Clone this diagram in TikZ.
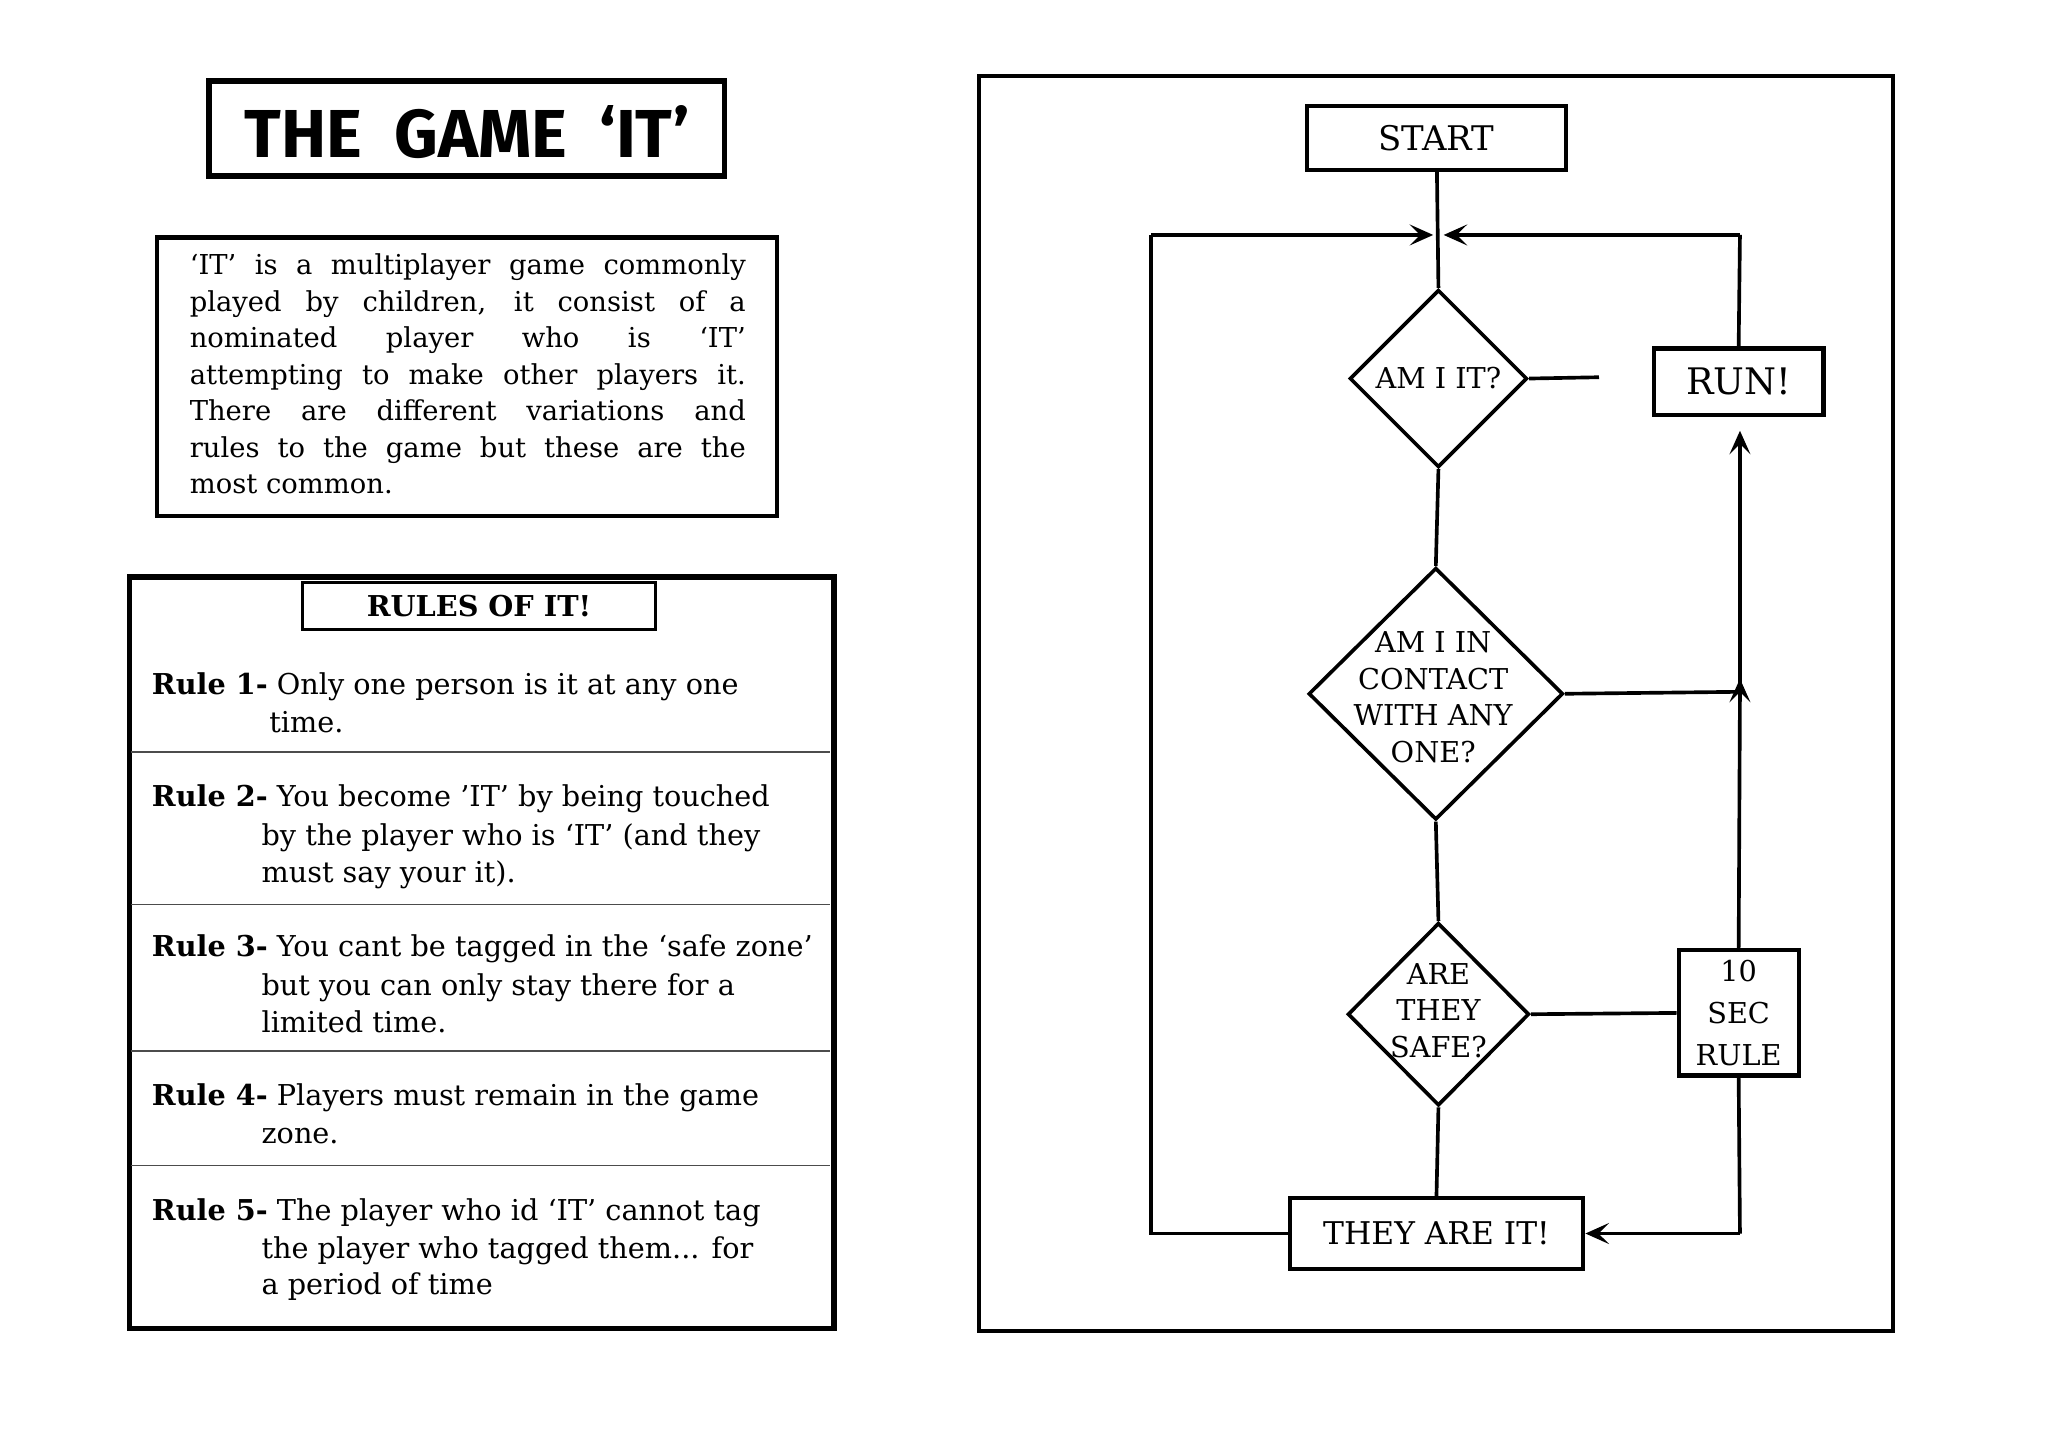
\documentclass[tikz,border=0pt]{standalone}
\usepackage{fontspec}
\setmainfont{DejaVu Serif}
\newfontfamily\titlefont{Fira Sans}
\usetikzlibrary{shapes.geometric,arrows.meta}
\begin{document}
\begin{tikzpicture}[x=0.5pt,y=-0.5pt,
  box/.style={draw,line width=1.6pt,inner sep=0pt},
  ln/.style={line width=1.4pt},
  arr/.style={line width=1.4pt,-{Stealth[length=9pt,width=8pt,inset=4pt]}},
  dia/.style={draw,diamond,line width=1.4pt,inner sep=0pt,aspect=1},
  ft/.style={font=\fontsize{11}{14}\selectfont,align=center,inner sep=0pt},
  rl/.style={anchor=base west,inner sep=0pt,font=\fontsize{11}{14}\selectfont},
  sep/.style={line width=0.6pt,draw=black!70}]
\useasboundingbox (0,0) rectangle (1569,1108.5);
% title
\node[box,line width=2.2pt,minimum width=197.5pt,minimum height=36.5pt] (title) at (357.5,98.5) {};
\node[font=\titlefont\bfseries\fontsize{26}{30}\selectfont] (titlet) at (358,101) {THE\ \ GAME\ \ ‘IT’};
% intro
\node[box,minimum width=237.5pt,minimum height=106.5pt] (intro) at (357.5,288.5) {};
\node[anchor=north west,inner sep=0pt,text width=213pt,align=justify,font=\fontsize{10.5}{14}\selectfont] (introt) at (145,194)
{‘IT’ is a multiplayer game commonly\linebreak played by children, it consist of a\linebreak nominated player who is ‘IT’\linebreak attempting to make other players it.\linebreak There are different variations and\linebreak rules to the game but these are the\linebreak most common.};
% rules
\node[box,line width=2pt,minimum width=270pt,minimum height=288pt] (rules) at (369,730) {};
\node[box,line width=1.2pt,minimum width=135pt,minimum height=18pt,font=\bfseries\fontsize{11}{14}\selectfont] (rulesh) at (367,464) {RULES OF IT!};
\foreach \y in {576,693,805,893} \draw[sep] (100,\y) -- (636,\y);
\node[rl] (r1a) at (116,532) {\textbf{Rule 1-} Only one person is it at any one};
\node[rl] (r1b) at (206,561) {time.};
\node[rl] (r2a) at (116,618) {\textbf{Rule 2-} You become ’IT’ by being touched};
\node[rl] (r2b) at (200,648) {by the player who is ‘IT’ (and they};
\node[rl] (r2c) at (200,676) {must say your it).};
\node[rl] (r3a) at (116,733) {\textbf{Rule 3-} You cant be tagged in the ‘safe zone’};
\node[rl] (r3b) at (200,763) {but you can only stay there for a};
\node[rl] (r3c) at (200,791) {limited time.};
\node[rl] (r4a) at (116,847) {\textbf{Rule 4-} Players must remain in the game};
\node[rl] (r4b) at (200,876) {zone.};
\node[rl] (r5a) at (116,935) {\textbf{Rule 5-} The player who id ‘IT’ cannot tag};
\node[rl] (r5b) at (200,964) {the player who tagged them... for};
\node[rl] (r5c) at (200,992) {a period of time};
% flowchart frame
\node[box,line width=1.5pt,minimum width=350pt,minimum height=481pt] (frame) at (1100,539) {};
\node[box,minimum width=99.5pt,minimum height=24.5pt,font=\fontsize{13}{16}\selectfont] (start) at (1100.5,105.5) {START};
\node[box,minimum width=65pt,minimum height=25.5pt,font=\fontsize{14}{18}\selectfont] (run) at (1332,292.5) {RUN!};
\node[box,minimum width=46pt,minimum height=48pt,ft,font=\fontsize{11}{16}\selectfont] (ten) at (1332,776) {10\\SEC\\RULE};
\node[box,minimum width=112.5pt,minimum height=27pt,font=\fontsize{12}{16}\selectfont] (they) at (1100.5,945) {THEY ARE IT!};
\node[dia,minimum width=68pt,minimum height=68pt] (d1) at (1102,290) {};
\node[ft] (d1t) at (1102,290) {AM I IT?};
\node[dia,minimum width=97.5pt,minimum height=96.5pt] (d2) at (1100,531.5) {};
\node[ft] (d2t) at (1098,534) {AM I IN\\CONTACT\\WITH ANY\\ONE?};
\node[dia,minimum width=69.5pt,minimum height=70pt] (d3) at (1102,777) {};
\node[ft] (d3t) at (1102,774) {ARE\\THEY\\SAFE?};
% connectors
\coordinate (top) at (1102,180);
\coordinate (tl) at (882,180);
\coordinate (tr) at (1333,180);
\coordinate (bl) at (882,945);
\coordinate (br) at (1333,945);
\coordinate (dead) at (1225,289);
\coordinate (mid) at (1333,530);
\draw[ln] (start) -- (d1.north);
\draw[arr] (tl) -- (1098,180);
\draw[arr] (tr) -- (1106,180);
\draw[ln] (tl) -- (bl) -- (they.west);
\draw[ln] (d1.east) -- (dead);
\draw[ln] (d1.south) -- (d2.north);
\draw[ln] (d2.south) -- (d3.north);
\draw[ln] (d3.south) -- (they.north);
\draw[ln] (d3.east) -- (ten.west);
\draw[ln] (d2.east) -- (mid);
\draw[arr] (br) -- (they.east);
\draw[ln] (br) -- (ten.south);
\draw[ln] (ten.north) -- (mid);
\draw[arr] (mid) -- (1333,520);
\draw[arr] (mid) -- (1333,330);
\draw[ln] (run.north) -- (tr);
\end{tikzpicture}
\end{document}
